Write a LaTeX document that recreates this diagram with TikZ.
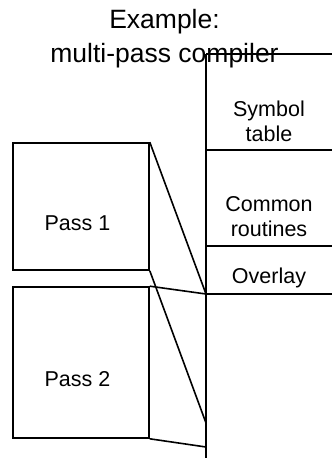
\documentclass[tikz,border=0pt]{standalone}
\usepackage{fontspec}
\setmainfont{Liberation Sans}
\begin{document}
\begin{tikzpicture}[x=1pt,y=-1pt,line width=1.6pt,
  passbox/.style={draw,minimum width=136pt,inner sep=0pt,
    label={[passtext]center:#1}},
  passtext/.style={inner sep=0pt,xshift=-3.5pt,yshift=-16.5pt,
    font=\fontsize{21.5}{24}\selectfont},
  cell/.style={anchor=base,align=center,inner sep=0pt,font=\fontsize{21.5}{24.5}\selectfont},
  title/.style={anchor=base,align=center,inner sep=0pt,font=\fontsize{26.5}{34}\selectfont},
  link/.style={line width=1.6pt}]
\useasboundingbox (0,0) rectangle (332,458);

% title (base anchor sits on the last line)
\node[title] (ttl) at (164.5,62) {Example:\\multi-pass compiler};

% memory column: left edge and cell boundaries
\coordinate (mtop) at (206,54);
\coordinate (mbot) at (206,460);
\coordinate (s1) at (206,150);
\coordinate (s2) at (206,246);
\coordinate (s3) at (206,294);
\coordinate (t1) at (206,423);
\coordinate (t2) at (206,447);
\draw (mtop) -- (mbot);
\foreach \c in {mtop,s1,s2,s3} \draw (\c) -- ++(130,0);

\node[cell] (sym) at (269,141) {Symbol\\table};
\node[cell] (com) at (269,236) {Common\\routines};
\node[cell] (ovl) at (269,283) {Overlay};

% passes
\node[passbox=Pass 1,minimum height=127pt] (p1) at (81,206.5) {};
\node[passbox=Pass 2,minimum height=151pt] (p2) at (81,362.5) {};

% mapping of each pass onto memory
\draw[link] (p1.north east) -- (s3);
\draw[link] (p1.south east) -- (t1);
\draw[link] (p2.north east) -- (s3);
\draw[link] (p2.south east) -- (t2);
\end{tikzpicture}
\end{document}
